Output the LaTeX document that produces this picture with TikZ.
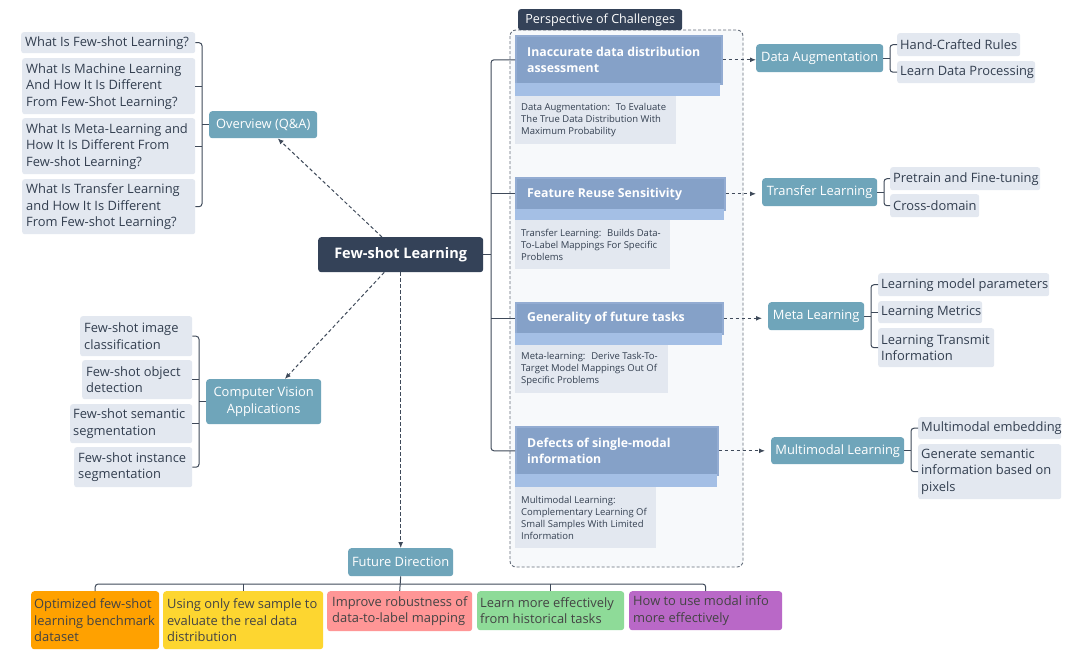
\documentclass[tikz,border=0pt]{standalone}
\usepackage{fontspec}
\setmainfont{Open Sans}
\usetikzlibrary{arrows.meta}
\definecolor{lboxc}{HTML}{E3E8F0}
\definecolor{txtc}{HTML}{333F50}
\definecolor{tealc}{HTML}{6FA5BA}
\definecolor{navyc}{HTML}{344258}
\definecolor{headc}{HTML}{85A1C8}
\definecolor{headb}{HTML}{93ACD2}
\definecolor{stripc}{HTML}{A4BFE5}
\definecolor{groupc}{HTML}{F7F9FB}
\definecolor{linec}{HTML}{3F4A5A}
\definecolor{orangec}{HTML}{FFA100}
\definecolor{yellowc}{HTML}{FDD630}
\definecolor{pinkc}{HTML}{FF9696}
\definecolor{greenc}{HTML}{8EDB98}
\definecolor{purplec}{HTML}{B968C7}
\definecolor{ftxt}{HTML}{444444}
\tikzset{
  qa/.style={fill=lboxc, rounded corners=2.5pt},
  qat/.style={text=txtc, font=\fontsize{12.9}{16.5}\selectfont},
  teal/.style={fill=tealc, rounded corners=3pt},
  tealt/.style={text=white, font=\fontsize{12.9}{16.5}\selectfont},
  central/.style={fill=navyc, rounded corners=3pt},
  centralt/.style={text=white, font=\fontsize{14.5}{17}\selectfont\bfseries},
  ttab/.style={fill=navyc, rounded corners=2.5pt},
  ttabt/.style={text=white, font=\fontsize{12.6}{14}\selectfont},
  head/.style={fill=headc, draw=headb, line width=1.6pt},
  headt/.style={text=white, font=\fontsize{12.3}{16.5}\selectfont\bfseries},
  stripbox/.style={fill=stripc},
  desc/.style={fill=lboxc},
  desct/.style={text=txtc, font=\fontsize{9.5}{12}\selectfont},
  fo/.style={fill=orangec, rounded corners=3pt},
  fy/.style={fill=yellowc, rounded corners=3pt},
  fp/.style={fill=pinkc, rounded corners=3pt},
  fg/.style={fill=greenc, rounded corners=3pt},
  fv/.style={fill=purplec, rounded corners=3pt},
  ft/.style={text=ftxt, font=\fontsize{12.9}{16.5}\selectfont},
  conn/.style={draw=linec, line width=1pt, rounded corners=3pt},
  darrow/.style={draw=linec, line width=1pt, dash pattern=on 3.5pt off 2.5pt, -{Latex[length=6pt,width=5pt]}},
}
% left-aligned box: [pad]{boxstyle}{textstyle}{name}{x1}{y1}{x2}{y2}{text}
\newcommand\mkboxl[9][4]{%
  \pgfmathsetmacro\mkw{#7-#5}\pgfmathsetmacro\mkh{#8-#6}%
  \node[#2, anchor=north west, minimum width=\mkw pt, minimum height=\mkh pt, inner sep=0pt] (#4) at (#5,#6) {};
  \node[#3, anchor=west, align=left, inner sep=0pt] (#4-t) at ([xshift=#1pt]#4.west) {#9};}
\newcommand\mkboxc[8][0]{%
  \pgfmathsetmacro\mkw{#6-#4}\pgfmathsetmacro\mkh{#7-#5}%
  \node[#2, anchor=north west, minimum width=\mkw pt, minimum height=\mkh pt, inner sep=0pt] (#3) at (#4,#5) {};
  \node[#1, align=center, inner sep=0pt] (#3-t) at (#3.center) {#8};}
\begin{document}
\begin{tikzpicture}[x=1pt,y=-1pt]
\useasboundingbox[fill=white] (0,0) rectangle (1080,657);
% ---------- group ----------
\draw[draw=linec!80, fill=groupc, line width=0.9pt, dash pattern=on 3pt off 2pt, rounded corners=6pt] (510,30) rectangle (743,567);
\mkboxc[ttabt]{ttab}{pc}{518}{9}{682}{30}{Perspective of Challenges}
% ---------- Q&A ----------
\mkboxl{qa}{qat}{q1}{21}{32}{195}{53}{What Is Few-shot Learning?}
\mkboxl{qa}{qat}{q2}{22}{58}{195}{114}{What Is Machine Learning\\And How It Is Different\\From Few-Shot Learning?}
\mkboxl{qa}{qat}{q3}{22}{118}{195}{174}{What Is Meta-Learning and\\How It Is Different From\\Few-shot Learning?}
\mkboxl{qa}{qat}{q4}{22}{179}{195}{234}{What Is Transfer Learning\\and How It Is Different\\From Few-shot Learning?}
\mkboxc[tealt]{teal}{ov}{209}{111}{317}{138}{Overview (Q\&A)}
\coordinate (qb) at (202,0);
\draw[conn] (q1.east) -- (q1.east -| qb) -- (q4.east -| qb) -- (q4.east);
\draw[conn] (q2.east) -- (q2.east -| qb);
\draw[conn] (q3.east) -- (q3.east -| qb);
\draw[conn] (qb |- ov.west) -- (ov.west);
% ---------- central ----------
\mkboxc[centralt]{central}{fsl}{318}{237}{483}{272}{Few-shot Learning}
% ---------- computer vision ----------
\mkboxc[tealt]{teal}{cv}{206}{379}{321}{424}{Computer Vision\\Applications}
\mkboxl{qa}{qat}{v1}{80}{316}{192}{356}{Few-shot image\\classification}
\mkboxl{qa}{qat}{v2}{82}{360}{192}{399}{Few-shot object\\detection}
\mkboxl[3]{qa}{qat}{v3}{70}{404}{192}{443}{Few-shot semantic\\segmentation}
\mkboxl{qa}{qat}{v4}{74}{447}{192}{487}{Few-shot instance\\segmentation}
\coordinate (vb) at (199,0);
\draw[conn] (v1.east) -- (v1.east -| vb) -- (v4.east -| vb) -- (v4.east);
\draw[conn] (v2.east) -- (v2.east -| vb);
\draw[conn] (v3.east) -- (v3.east -| vb);
\draw[conn] (vb |- cv.west) -- (cv.west);
% ---------- future direction ----------
\mkboxc[tealt]{teal}{fd}{348}{548}{453}{576}{Future Direction}
\mkboxl[3]{fo}{ft}{f1}{31}{591}{159}{649}{Optimized few-shot\\learning benchmark\\dataset}
\mkboxl{fy}{ft}{f2}{163}{591}{323}{649}{Using only few sample to\\evaluate the real data\\distribution}
\mkboxl[5]{fp}{ft}{f3}{327}{591}{472}{631}{Improve robustness of\\data-to-label mapping}
\mkboxl[3]{fg}{ft}{f4}{477}{591}{624}{630}{Learn more effectively\\from historical tasks}
\mkboxl[4]{fv}{ft}{f5}{629}{591}{782}{630}{How to use modal info\\more effectively}
\coordinate (bus) at (0,584);
\draw[conn] (f1.north) -- (f1.north |- bus) -- (f5.north |- bus) -- (f5.north);
\draw[conn] (f2.north) -- (f2.north |- bus);
\draw[conn] (f4.north) -- (f4.north |- bus);
\draw[conn] (fd.south) -- (f3.north);
% ---------- challenges ----------
\mkboxl[12]{head}{headt}{c1}{515}{35}{721}{83}{Inaccurate data distribution\\assessment}
\mkboxl{stripbox}{desct}{s1}{515}{83}{720}{96}{}
\mkboxl[6]{desc}{desct}{d1}{515}{96}{676}{144}{Data Augmentation:~ To Evaluate\\The True Data Distribution With\\Maximum Probability}
\mkboxl[12]{head}{headt}{c2}{515}{177}{724}{209}{Feature Reuse Sensitivity}
\mkboxl{stripbox}{desct}{s2}{515}{209}{724}{220}{}
\mkboxl[6]{desc}{desct}{d2}{515}{220}{670}{269}{Transfer Learning:~ Builds Data-\\To-Label Mappings For Specific\\Problems}
\mkboxl[12]{head}{headt}{c3}{515}{302}{722}{333}{Generality of future tasks}
\mkboxl{stripbox}{desct}{s3}{515}{333}{722}{345}{}
\mkboxl[6]{desc}{desct}{d3}{515}{345}{668}{393}{Meta-learning:~ Derive Task-To-\\Target Model Mappings Out Of\\Specific Problems}
\mkboxl[12]{head}{headt}{c4}{515}{426}{717}{474}{Defects of single-modal\\information}
\mkboxl{stripbox}{desct}{s4}{515}{474}{717}{487}{}
\mkboxl[6]{desc}{desct}{d4}{515}{487}{656}{548}{Multimodal Learning:\\Complementary Learning Of\\Small Samples With Limited\\Information}
\coordinate (tr) at (491,0);
\draw[conn] (c1.west) -- (c1.west -| tr) -- (c4.west -| tr) -- (c4.west);
\draw[conn] (c2.west) -- (c2.west -| tr);
\draw[conn] (c3.west) -- (c3.west -| tr);
\draw[conn] (fsl.east) -- (fsl.east -| tr);
% ---------- right side ----------
\mkboxc[tealt]{teal}{da}{756}{44}{883}{72}{Data Augmentation}
\mkboxl[3]{qa}{qat}{da1}{897}{33}{1020}{56}{Hand-Crafted Rules}
\mkboxl[3]{qa}{qat}{da2}{897}{61}{1035}{83}{Learn Data Processing}
\coordinate (dab) at (890,0);
\draw[conn] (da1.west) -- (da1.west -| dab) -- (da2.west -| dab) -- (da2.west);
\draw[conn] (da.east) -- (da.east -| dab);
\mkboxc[tealt]{teal}{tl}{762}{178}{877}{206}{Transfer Learning}
\mkboxl[3]{qa}{qat}{tl1}{890}{167}{1040}{190}{Pretrain and Fine-tuning}
\mkboxl[3]{qa}{qat}{tl2}{890}{194}{979}{217}{Cross-domain}
\coordinate (tlb) at (884,0);
\draw[conn] (tl1.west) -- (tl1.west -| tlb) -- (tl2.west -| tlb) -- (tl2.west);
\draw[conn] (tl.east) -- (tl.east -| tlb);
\mkboxc[tealt]{teal}{ml}{768}{302}{864}{330}{Meta Learning}
\mkboxl[3]{qa}{qat}{ml1}{878}{273}{1049}{296}{Learning model parameters}
\mkboxl[3]{qa}{qat}{ml2}{878}{301}{982}{323}{Learning Metrics}
\mkboxl[3]{qa}{qat}{ml3}{878}{328}{994}{367}{Learning Transmit\\Information}
\coordinate (mlb) at (871,0);
\draw[conn] (ml1.west) -- (ml1.west -| mlb) -- (ml3.west -| mlb) -- (ml3.west);
\draw[conn] (ml2.west) -- (ml2.west -| mlb);
\draw[conn] (ml.east) -- (ml.east -| mlb);
\mkboxc[tealt]{teal}{mm}{771}{437}{904}{464}{Multimodal Learning}
\mkboxl[3]{qa}{qat}{mm1}{918}{417}{1061}{439}{Multimodal embedding}
\mkboxl[3]{qa}{qat}{mm2}{918}{444}{1061}{499}{Generate semantic\\information based on\\pixels}
\coordinate (mmb) at (911,0);
\draw[conn] (mm1.west) -- (mm1.west -| mmb) -- (mm2.west -| mmb) -- (mm2.west);
\draw[conn] (mm.east) -- (mm.east -| mmb);
% ---------- dashed arrows ----------
\draw[darrow] (fsl) -- (ov);
\draw[darrow] (fsl) -- (cv);
\draw[darrow] (fsl.south) -- (fd.north);
\draw[darrow] (c1.east) -- (c1.east -| da.west);
\draw[darrow] (c2.east) -- ([xshift=-6pt]c2.east -| tl.west);
\draw[darrow] (c3.east) -- ([xshift=-6pt]c3.east -| ml.west);
\draw[darrow] (c4.east) -- ([xshift=-6pt]c4.east -| mm.west);
\end{tikzpicture}
\end{document}
